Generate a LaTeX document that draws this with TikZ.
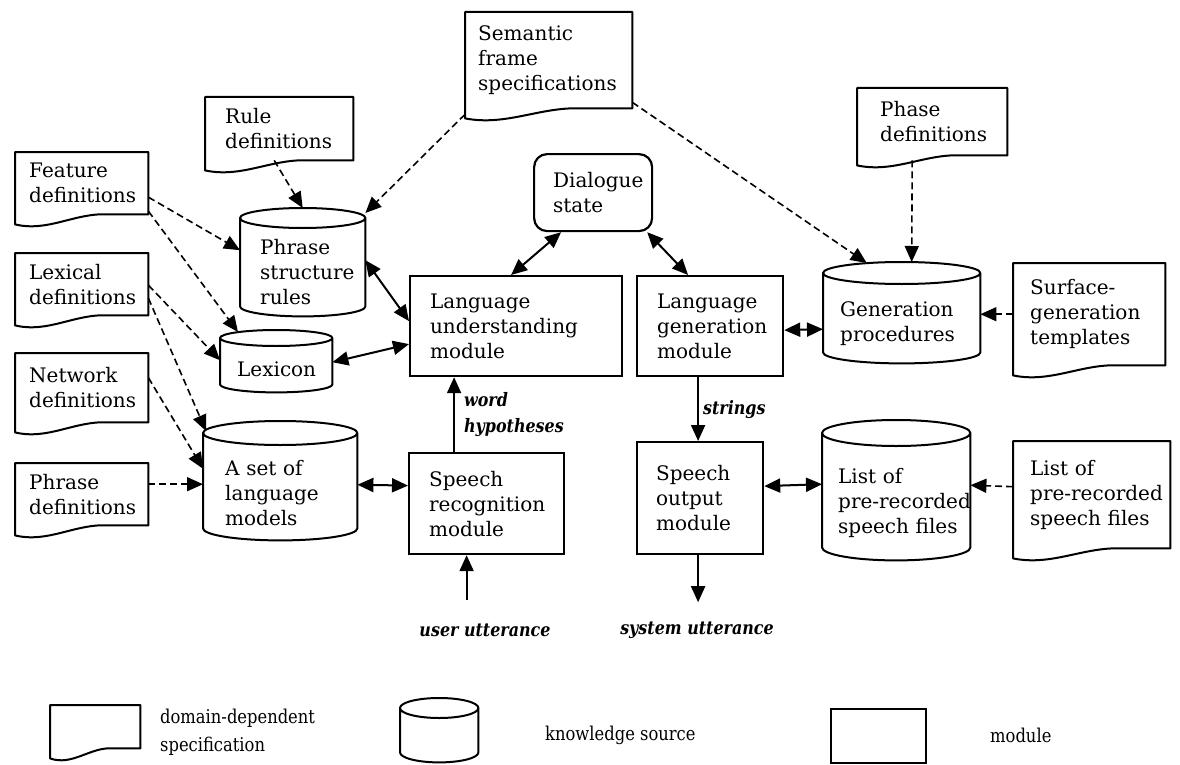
\documentclass[tikz,border=0pt]{standalone}
\usepackage{fontspec}
\setmainfont{DejaVu Serif}
\newfontfamily\condfont[FakeStretch=0.86]{DejaVu Serif}
\usetikzlibrary{arrows.meta,calc}
\tikzstyle{outl}=[line width=2pt,line join=round]
\tikzstyle{txt}=[font=\fontsize{20}{25}\selectfont,align=left,inner sep=0pt,anchor=north west]
\tikzstyle{spec}=[txt]
\tikzstyle{ks}=[txt]
\tikzstyle{modbox}=[txt,draw,line width=2.2pt]
\tikzstyle{state}=[txt,draw,line width=2.2pt,rounded corners=13pt]
\tikzstyle{lbl}=[font=\condfont\fontsize{18.5}{26}\selectfont\bfseries\itshape,align=left,inner sep=0pt]
\tikzstyle{legtxt}=[font=\condfont\fontsize{19}{28}\selectfont,align=left,inner sep=0pt,anchor=west]
\tikzstyle{dep}=[line width=1.6pt,dash pattern=on 7pt off 4pt,-{Triangle[length=16pt,width=14pt]}]
\tikzstyle{flow}=[line width=2pt,-{Triangle[length=16pt,width=14pt]}]
\tikzstyle{link}=[line width=2pt,{Triangle[length=16pt,width=14pt]}-{Triangle[length=16pt,width=14pt]}]
\newcommand{\docout}[1]{%
  \draw[outl] (#1.south east) -- (#1.north east) -- (#1.north west) -- ([yshift=-10pt]#1.south west)
    .. controls ([yshift=-18pt]$(#1.south west)!0.25!(#1.south east)$)
            and ([yshift=2pt]$(#1.south west)!0.45!(#1.south east)$)
    .. ($(#1.south west)!0.7!(#1.south east)$) -- cycle;}
\newcommand{\cylout}[2]{%
  \draw[outl] let \p1=(#1.north west), \p2=(#1.south east), \n1={(\x2-\x1)/2} in
    (\x1,\y1+#2pt) -- (\x1,\y2+#2pt)
    arc[start angle=180,end angle=360,x radius=\n1,y radius=#2pt] -- (\x2,\y1+#2pt)
    (\x1+\n1,\y1+#2pt) ellipse[x radius=\n1,y radius=#2pt];}

\begin{document}
\begin{tikzpicture}[x=1pt,y=-1pt]
  \useasboundingbox (0,0) rectangle (1180,765);

  \node[spec,minimum width=167pt,minimum height=96pt,text width=141pt] (sem) at (465,12) {Semantic\\frame\\specifications};
  \node[spec,minimum width=148pt,minimum height=63pt,text width=108pt] (rule) at (205,97) {Rule\\definitions};
  \node[spec,minimum width=150pt,minimum height=67pt,text width=104pt] (phase) at (857,88) {Phase\\definitions};
  \node[spec,minimum width=133pt,minimum height=62pt,text width=105pt] (feat) at (15,152) {Feature\\definitions};
  \node[spec,minimum width=133pt,minimum height=62pt,text width=105pt] (lexd) at (15,253) {Lexical\\definitions};
  \node[spec,minimum width=133pt,minimum height=69pt,text width=105pt] (netd) at (15,353) {Network\\definitions};
  \node[spec,minimum width=133pt,minimum height=62pt,text width=105pt] (phrd) at (15,463) {Phrase\\definitions};
  \node[spec,minimum width=152pt,minimum height=102pt,text width=118pt] (surf) at (1013,263) {\mbox{Surface-}\\generation\\templates};
  \node[spec,minimum width=157pt,minimum height=107pt,text width=123pt] (listd) at (1013,441) {List of\\\mbox{pre-recorded}\\\mbox{speech files}};

  \node[ks,minimum width=125pt,minimum height=88pt,text width=85pt] (psr) at (240,228) {Phrase\\structure\\rules};
  \node[ks,minimum width=112pt,minimum height=46pt,text width=78pt] (lex) at (220,346) {Lexicon};
  \node[ks,minimum width=154pt,minimum height=95pt,text width=110pt] (lm) at (203,445) {A set of\\language\\models};
  \node[ks,minimum width=157pt,minimum height=79pt,text width=123pt] (gen) at (823,284) {Generation\\procedures};
  \node[ks,minimum width=148pt,minimum height=114pt,text width=116pt] (listc) at (822,446) {List of\\\mbox{pre-recorded}\\\mbox{speech files}};

  \node[state,minimum width=118pt,minimum height=77pt,text width=80pt] (ds) at (533,153) {Dialogue\\state};
  \node[modbox,minimum width=212pt,minimum height=100pt,text width=172pt] (lu) at (409,275) {Language\\understanding\\module};
  \node[modbox,minimum width=146pt,minimum height=100pt,text width=106pt] (lg) at (636,275) {Language\\generation\\module};
  \node[modbox,minimum width=155pt,minimum height=101pt,text width=115pt] (sr) at (408,452) {Speech\\recognition\\module};
  \node[modbox,minimum width=126pt,minimum height=112pt,text width=88pt] (so) at (636,441) {Speech\\output\\module};

  \docout{sem}
  \docout{rule}
  \docout{phase}
  \docout{feat}
  \docout{lexd}
  \docout{netd}
  \docout{phrd}
  \docout{surf}
  \docout{listd}
  \cylout{psr}{10}
  \cylout{lex}{8}
  \cylout{lm}{12}
  \cylout{gen}{11}
  \cylout{listc}{13}

  \draw[dep] ([xshift=-5pt]rule.south) -- ([yshift=20pt]psr.north);
  \draw[dep] ([yshift=-6pt]sem.south west) -- ([yshift=15pt]psr.north east);
  \draw[dep] ([yshift=6pt]sem.south east) -- ([xshift=-35pt,yshift=21pt]gen.north);
  \draw[dep] ([xshift=-20pt,yshift=-5pt]phase.south) -- ([xshift=10pt,yshift=22pt]gen.north);
  \draw[dep] (surf.west) -- (surf.west -| gen.east);
  \draw[dep] ([yshift=-14pt]feat.east) -- ([yshift=22pt]psr.west);
  \draw[dep] ([yshift=-28pt]feat.east) -- ([xshift=18pt,yshift=14pt]lex.north west);
  \draw[dep] ([yshift=-1pt]lexd.east) -- ([yshift=9pt]lex.west);
  \draw[dep] ([yshift=-14pt]lexd.east) -- ([xshift=3pt,yshift=14pt]lm.north west);
  \draw[dep] ([yshift=10pt]netd.east) -- ([yshift=24pt]lm.west);
  \draw[dep] ([yshift=10pt]phrd.east) -- ([yshift=8.5pt]lm.west);
  \draw[dep] ([yshift=8pt]listd.west) -- ([yshift=18pt]listc.east);

  \draw[link] ([yshift=12pt]psr.east) -- ([yshift=5pt]lu.west);
  \draw[link] ([yshift=7pt]lex.east) -- ([yshift=-18pt]lu.west);
  \draw[link] ([yshift=8pt]lm.east) -- ([yshift=18pt]sr.west);
  \draw[link] ([xshift=-32pt]ds.south) -- ([xshift=-5pt]lu.north);
  \draw[link] ([xshift=-6pt]ds.south east) -- ([xshift=-22pt]lg.north);
  \draw[link] ([yshift=-4pt]lg.east) -- ([yshift=-5.5pt]gen.west);
  \draw[link] ([yshift=12pt]so.east) -- ([yshift=19pt]listc.west);

  \draw[flow] ([xshift=-32.5pt]sr.north) -- node[lbl,right=9pt] (whyp) {word\\hypotheses} ([xshift=-62pt]lu.south);
  \draw[flow] ([xshift=-12pt]lg.south) -- node[lbl,right=4pt] (strg) {strings} ([xshift=-2pt]so.north);

  \node[lbl] (uut) at (485,630) {user utterance};
  \node[lbl] (sut) at (697,630) {system utterance};
  \coordinate (uin) at ([xshift=-20pt,yshift=-45pt]sr.south);
  \coordinate (sout) at ([xshift=-2pt,yshift=-47pt]so.south);
  \draw[flow] (uin) -- ([xshift=-20pt]sr.south);
  \draw[flow] ([xshift=-2pt]so.south) -- (sout);

  \node[spec,minimum width=90pt,minimum height=43pt] (legd) at (50,705) {};
  \node[ks,minimum width=78pt,minimum height=44pt] (legc) at (400,718) {};
  \node[modbox,minimum width=95pt,minimum height=54pt] (legm) at (830,708) {};
  \docout{legd}
  \cylout{legc}{10}
  \node[legtxt] (legdt) at (160,732) {\mbox{domain-dependent}\\specification};
  \node[legtxt] (legct) at (545,735) {knowledge source};
  \node[legtxt] (legmt) at (990,735) {module};
\end{tikzpicture}
\end{document}
